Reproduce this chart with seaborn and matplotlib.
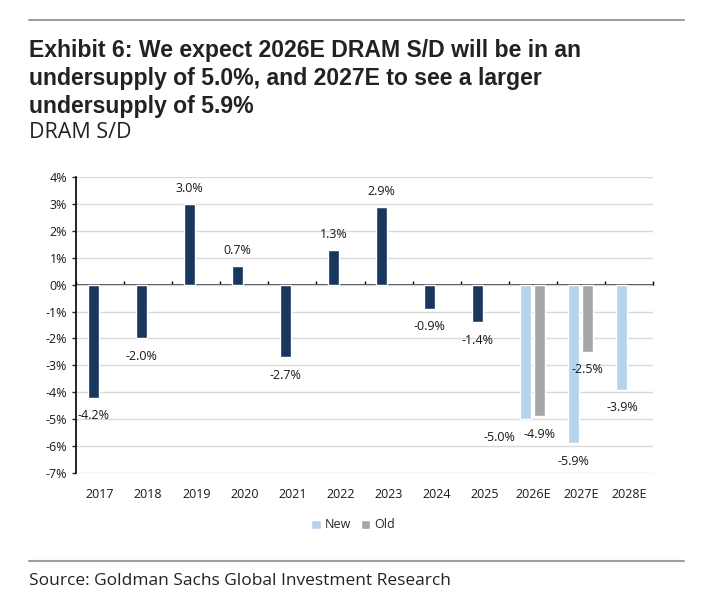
import numpy as np
import pandas as pd
import matplotlib
matplotlib.use('Agg')
import matplotlib.pyplot as plt
from matplotlib.lines import Line2D
from matplotlib.patches import Patch
import seaborn as sns

years = ['2017', '2018', '2019', '2020', '2021', '2022', '2023', '2024', '2025', '2026E', '2027E', '2028E']
new_vals = [-4.2, -2.0, 3.0, 0.7, -2.7, 1.3, 2.9, -0.9, -1.4, -5.0, -5.9, -3.9]
old_vals = [np.nan] * 9 + [-4.9, -2.5, np.nan]
n_actual = 9  # 2017-2025 are actuals, drawn in navy

NAVY = '#17375E'
LIGHT = '#B4D3EE'
GREY = '#A6A6A6'

df = pd.DataFrame({
    'year': years * 2,
    'series': ['New'] * len(years) + ['Old'] * len(years),
    'value': new_vals + old_vals,
})

sns.set_theme(style='white')
plt.rcParams['font.family'] = ['Open Sans', 'DejaVu Sans']

fig = plt.figure(figsize=(7.06, 6.04), dpi=100)
ax = fig.add_axes([76 / 706, 1 - 473 / 604, (653 - 76) / 706, (473 - 177) / 604])

sns.barplot(data=df, x='year', y='value', hue='series', hue_order=['New', 'Old'],
            palette={'New': LIGHT, 'Old': GREY}, width=0.583, gap=0.214,
            legend=False, ax=ax, saturation=1)

# actual years in navy
for i, p in enumerate(ax.containers[0]):
    if i < n_actual:
        p.set_facecolor(NAVY)

# data labels
for c in ax.containers:
    for p in c:
        v = p.get_height()
        if np.isnan(v):
            continue
        x = p.get_x() + p.get_width() / 2
        dx = 0
        if abs(v + 5.0) < 1e-9:
            dx = -19
        dy = 10.8 if v > 0 else -13
        ax.annotate(f'{v:.1f}%', (x, v), xytext=(dx, dy), textcoords='offset points',
                    ha='center', va='center', fontsize=9, color='#1a1a1a')

ax.set_xlim(-0.5, len(years) - 0.5)
ax.set_ylim(-7, 4)
ax.set_yticks(range(-7, 5))
ax.set_yticklabels([f'{t}%' for t in range(-7, 5)])
ax.yaxis.grid(True, color='#D9D9D9', lw=1)
ax.set_axisbelow(True)
ax.set_xlabel('')
ax.set_ylabel('')

for s in ['top', 'right', 'bottom']:
    ax.spines[s].set_visible(False)
ax.spines['left'].set_color('black')
ax.spines['left'].set_linewidth(1.2)
ax.tick_params(axis='y', left=True, length=3, width=1, pad=3.5, labelsize=9, labelcolor='#1a1a1a')
ax.tick_params(axis='x', bottom=False, length=0, pad=11, labelsize=9, labelcolor='#1a1a1a')

# zero line with category ticks
zero = ax.secondary_xaxis(7 / 11)
zero.spines['bottom'].set_color('black')
zero.spines['bottom'].set_linewidth(1.2)
zero.set_xticks(np.arange(-0.5, len(years), 1))
zero.set_xticklabels([])
zero.tick_params(axis='x', direction='out', length=3, width=1, color='black')

# legend
handles = [Patch(facecolor=LIGHT, label='New'), Patch(facecolor=GREY, label='Old')]
fig.legend(handles=handles, loc='center', bbox_to_anchor=(353 / 706, 1 - 525 / 604),
           ncol=2, frameon=False, fontsize=9, handlelength=0.75, handleheight=0.75,
           handletextpad=0.3, columnspacing=0.8)

# header / footer
fig.add_artist(Line2D([29 / 706, 684 / 706], [1 - 20 / 604] * 2, color='#9E9E9E', lw=1.5))
fig.add_artist(Line2D([29 / 706, 684 / 706], [1 - 561 / 604] * 2, color='#9E9E9E', lw=1.5))

fig.text(29 / 706, 1 - 38.5 / 604,
         'Exhibit 6: We expect 2026E DRAM S/D will be in an\n'
         'undersupply of 5.0%, and 2027E to see a larger\n'
         'undersupply of 5.9%',
         ha='left', va='top', fontsize=16.6, fontweight='bold', color='#222222',
         linespacing=1.3,
         family=['Liberation Sans', 'DejaVu Sans'])
fig.text(29 / 706, 1 - 138 / 604, 'DRAM S/D', ha='left', va='baseline',
         fontsize=15.5, color='#222222')
fig.text(29 / 706, 1 - 585 / 604, 'Source: Goldman Sachs Global Investment Research',
         ha='left', va='baseline', fontsize=12.5, color='#222222')

fig.savefig('out.png', dpi=100)
